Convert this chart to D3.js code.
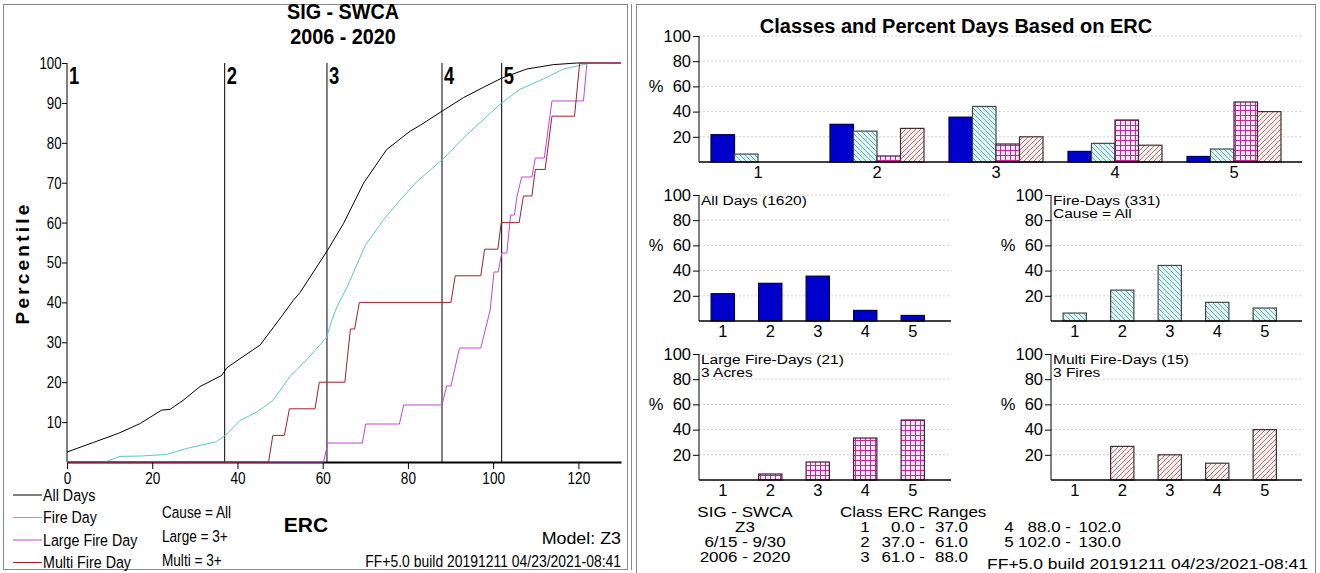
<!DOCTYPE html>
<html>
<head>
<meta charset="utf-8">
<script src="https://cdn.jsdelivr.net/npm/d3@7"></script>
<style>
body { margin: 0; background: #fff; }
svg text { font-family: "Liberation Sans", Arial, sans-serif; fill: #000; }
</style>
</head>
<body>
<div id="chart"></div>
<script>
// ---- data ----
const classNames = ["1", "2", "3", "4", "5"]
const classStarts = [0, 37, 61, 88, 102]
const percentileTicks = [10, 20, 30, 40, 50, 60, 70, 80, 90, 100]
const ercTicks = [0, 20, 40, 60, 80, 100, 120]
const barTicks = [20, 40, 60, 80, 100]

// cumulative percentile curves [ERC, percentile]
const allDaysCurve = [[0, 2.5], [6.2, 4.9], [12.1, 7.2], [17.1, 9.6], [22.2, 13], [24.2, 13.2], [27.3, 15.5],
  [31.2, 18.9], [36.3, 21.7], [37.5, 23.6], [40.6, 25.9], [45.3, 29.3], [48.4, 33.7], [49.6, 35.4],
  [53.1, 40.5], [54.7, 42.5], [61.1, 53], [64.9, 59.8], [69.6, 69.9], [75, 78.3], [80.5, 82.9],
  [82.9, 84.4], [88.1, 88], [93, 91.3], [97.7, 93.9], [102, 96.2], [107.9, 98.5], [114.2, 99.6],
  [119.6, 100], [130, 100]]
const fireDayCurve = [[8.9, 0], [12.4, 1.4], [17.5, 1.5], [23.4, 1.9], [28.1, 3.4], [35.1, 5.1], [37.5, 7],
  [40.6, 10.4], [44.5, 12.5], [48.4, 15.5], [52.3, 21.4], [57, 26.5], [60.9, 31.2], [62.1, 35.4],
  [63.3, 38.8], [65.7, 43.8], [70, 54.3], [74.2, 60.6], [77.8, 65.2], [82.1, 70.3], [88.1, 75.8],
  [93.8, 82], [102, 90], [106.3, 93.4], [112.6, 96.4], [116.5, 98.5], [121.2, 99.6], [122.4, 100], [130, 100]]
const largeFireCurve = [[0, 0], [60.2, 0], [61.2, 4.76], [69.3, 4.76], [70.1, 9.52], [78, 9.52], [79, 14.29],
  [88, 14.29], [89.1, 19.05], [90.1, 19.05], [92.1, 28.57], [97.1, 28.57], [99.3, 38.1], [100.2, 47.62],
  [101.2, 47.62], [102, 52.38], [103.2, 52.38], [104.1, 61.9], [105, 61.9], [105.6, 66.67], [106.7, 71.43],
  [109.1, 71.43], [109.9, 76.19], [112, 76.19], [113.8, 90.48], [121.2, 90.48], [122, 100], [130, 100]]
const multiFireCurve = [[0, 0], [47.3, 0], [48.3, 6.67], [51, 6.67], [52.2, 13.33], [58.2, 13.33], [59.2, 20],
  [65.2, 20], [66.5, 33.33], [67.5, 33.33], [68.6, 40], [90.1, 40], [91.1, 46.67], [97.1, 46.67],
  [98, 53.33], [101.1, 53.33], [101.9, 60], [106.1, 60], [107.1, 66.67], [109.1, 66.67], [109.9, 73.33],
  [112.2, 73.33], [113.8, 86.67], [119.1, 86.67], [120.3, 100], [130, 100]]

// percent of days in each class
const pctAllDays = [21.7, 29.9, 35.6, 8.4, 4.4]
const pctFireDays = [6.3, 24.5, 44.1, 14.8, 10.3]
const pctLargeFire = [0, 4.76, 14.29, 33.33, 47.62]
const pctMultiFire = [0, 26.67, 20, 13.33, 40]

const classRangesLeft = [["1", "0.0", "37.0"], ["2", "37.0", "61.0"], ["3", "61.0", "88.0"]]
const classRangesRight = [["4", "88.0", "102.0"], ["5", "102.0", "130.0"]]
const infoLines = ["SIG - SWCA", "Z3", "6/15 - 9/30", "2006 - 2020"]
const notes = ["Cause = All", "Large = 3+", "Multi = 3+"]

const colors = {
    all: "#000000",
    fire: "#5cc6c6",
    large: "#c048cc",
    multi: "#a0202c",
    blue: "#0000cc"
}

const svg = d3.select("#chart").append("svg")
    .attr("width", 1320)
    .attr("height", 573)

// squeezed text like the original narrow font
const narrowText = (g, px, py, str, size, opts = {}) => g.append("text")
    .attr("transform", `translate(${px}, ${py}) scale(${opts.sx || 0.8}, 1)`)
    .attr("dy", "0.35em")
    .attr("font-size", size)
    .attr("font-weight", opts.bold ? "bold" : null)
    .attr("text-anchor", opts.anchor || "start")
    .text(str)

// ---- patterns ----
const defs = svg.append("defs")
const fireP = defs.append("pattern").attr("id", "fireHatch")
    .attr("patternUnits", "userSpaceOnUse").attr("width", 5).attr("height", 5)
fireP.append("rect").attr("width", 5).attr("height", 5).attr("fill", "#e2f4f4")
fireP.append("path").attr("d", "M-1,-1 L6,6 M-1,4 L1,6 M4,-1 L6,1")
    .attr("stroke", "#55a6aa").attr("stroke-width", 0.9)

const largeP = defs.append("pattern").attr("id", "largeGrid")
    .attr("patternUnits", "userSpaceOnUse").attr("width", 5).attr("height", 5)
largeP.append("rect").attr("width", 5).attr("height", 5).attr("fill", "#fbe6f6")
largeP.append("path").attr("d", "M0,0.5 H5 M0.5,0 V5")
    .attr("stroke", "#c02898").attr("stroke-width", 1)

const multiP = defs.append("pattern").attr("id", "multiHatch")
    .attr("patternUnits", "userSpaceOnUse").attr("width", 5).attr("height", 5)
multiP.append("rect").attr("width", 5).attr("height", 5).attr("fill", "#fbeeee")
multiP.append("path").attr("d", "M-1,6 L6,-1 M-1,1 L1,-1 M4,6 L6,4")
    .attr("stroke", "#a06868").attr("stroke-width", 0.9)

// ---- frames ----
svg.append("rect").attr("x", 3.5).attr("y", 4.5).attr("width", 624).attr("height", 565)
    .attr("fill", "none").attr("stroke", "#888")
svg.append("line").attr("x1", 631.5).attr("x2", 631.5).attr("y1", 4).attr("y2", 570)
    .attr("stroke", "#888")
svg.append("rect").attr("x", 636.5).attr("y", 4.5).attr("width", 679).attr("height", 572)
    .attr("fill", "none").attr("stroke", "#888")

// ================= left: percentile chart =================
const x = d3.scaleLinear().domain([0, 130]).range([67, 621])
const y = d3.scaleLinear().domain([0, 100]).range([462, 63])

const leftG = svg.append("g")

narrowText(leftG, 343, 11, "SIG - SWCA", 22, { bold: true, anchor: "middle", sx: 0.9 })
narrowText(leftG, 343, 36, "2006 - 2020", 22, { bold: true, anchor: "middle", sx: 0.9 })

const yAxisG = leftG.append("g")
    .attr("transform", `translate(${x(0)}, 0)`)
    .call(d3.axisLeft(y).tickValues(percentileTicks).tickSize(5).tickPadding(2))
yAxisG.select(".domain").remove()
yAxisG.selectAll("text").attr("font-size", 17).attr("transform", "scale(0.78, 1)")

const xAxisG = leftG.append("g")
    .attr("transform", `translate(0, ${y(0)})`)
    .call(d3.axisBottom(x).tickValues(ercTicks).tickSize(7).tickSizeOuter(0).tickPadding(3))
xAxisG.select(".domain").attr("stroke-width", 2)
xAxisG.selectAll("text").attr("font-size", 17).attr("transform", "scale(0.8, 1)")

// class boundaries
leftG.selectAll(".classLine")
    .data(classStarts)
    .enter()
    .append("line")
    .attr("x1", d => x(d)).attr("x2", d => x(d))
    .attr("y1", y(100)).attr("y2", y(0))
    .attr("stroke", "#000").attr("stroke-width", 1)

classStarts.forEach((c, i) => {
    narrowText(leftG, x(c) + 2, y(100) + 13, classNames[i], 23, { bold: true, sx: 0.8 })
})

const line = d3.line().x(d => x(d[0])).y(d => y(d[1]))

const curves = [
    { name: "All Days", data: allDaysCurve, color: colors.all },
    { name: "Fire Day", data: fireDayCurve, color: colors.fire },
    { name: "Large Fire Day", data: largeFireCurve, color: colors.large },
    { name: "Multi Fire Day", data: multiFireCurve, color: colors.multi }
]

leftG.selectAll(".curve")
    .data(curves)
    .enter()
    .append("path")
    .attr("d", d => line(d.data))
    .attr("fill", "none")
    .attr("stroke", d => d.color)
    .attr("stroke-width", 1)

// y title
leftG.append("text")
    .attr("transform", "translate(29, 263) rotate(-90)")
    .attr("text-anchor", "middle")
    .attr("font-size", 19).attr("font-weight", "bold")
    .attr("letter-spacing", 3.2)
    .text("Percentile")

leftG.append("text").attr("x", 306).attr("y", 532).attr("text-anchor", "middle")
    .attr("font-size", 21).attr("font-weight", "bold").text("ERC")

// legend
curves.forEach((c, i) => {
    const ly = 495 + i * 22.5
    leftG.append("line").attr("x1", 13).attr("x2", 42).attr("y1", ly).attr("y2", ly)
        .attr("stroke", c.color).attr("stroke-width", 1)
    narrowText(leftG, 43, ly, c.name, 17, { sx: 0.84 })
})

notes.forEach((n, i) => narrowText(leftG, 162, 512 + i * 24, n, 17))

narrowText(leftG, 621, 538, "Model: Z3", 17, { anchor: "end", sx: 1.05 })
narrowText(leftG, 621, 561, "FF+5.0 build 20191211 04/23/2021-08:41", 17, { anchor: "end", sx: 0.82 })

// ================= right: class bar charts =================
const rightG = svg.append("g")

rightG.append("text").attr("x", 956).attr("y", 33).attr("text-anchor", "middle")
    .attr("font-size", 20).attr("font-weight", "bold")
    .text("Classes and Percent Days Based on ERC")

const drawBarChart = (cfg) => {
    const g = rightG.append("g")
    const yS = d3.scaleLinear().domain([0, 100]).range([cfg.bottom, cfg.top])
    const xS = d3.scaleBand().domain(classNames)
        .range(cfg.band).paddingInner(cfg.padIn).paddingOuter(cfg.padOut)

    // dotted grid
    g.selectAll(".grid")
        .data(barTicks)
        .enter()
        .append("line")
        .attr("x1", cfg.left).attr("x2", cfg.right)
        .attr("y1", d => yS(d)).attr("y2", d => yS(d))
        .attr("stroke", "#cfcfcf").attr("stroke-dasharray", "2,2")

    const yAx = g.append("g")
        .attr("transform", `translate(${cfg.left}, 0)`)
        .call(d3.axisLeft(yS).tickValues(barTicks).tickSize(6).tickPadding(2).tickSizeOuter(0))
    yAx.select(".domain").attr("d", `M0,${yS(100)}V${yS(0)}`)
    yAx.selectAll("text").attr("font-size", 16.5)

    g.append("text").attr("x", cfg.left - 43).attr("y", yS(60)).attr("dy", "0.35em")
        .attr("text-anchor", "middle").attr("font-size", 16.5).text("%")

    const inner = d3.scaleBand().domain(d3.range(cfg.series.length)).range([0, xS.bandwidth()])

    cfg.series.forEach((s, si) => {
        g.selectAll(null)
            .data(s.values.map((v, i) => ({ v: v, c: classNames[i] })).filter(d => d.v > 0))
            .enter()
            .append("rect")
            .attr("x", d => xS(d.c) + inner(si))
            .attr("y", d => yS(d.v))
            .attr("width", inner.bandwidth())
            .attr("height", d => yS(0) - yS(d.v))
            .attr("fill", s.fill)
            .attr("stroke", s.stroke)
            .attr("stroke-width", 1.2)
    })

    g.append("line").attr("x1", cfg.left).attr("x2", cfg.right)
        .attr("y1", yS(0)).attr("y2", yS(0))
        .attr("stroke", "#000").attr("stroke-width", 1.3)

    g.selectAll(".xl")
        .data(classNames)
        .enter()
        .append("text")
        .attr("x", d => xS(d) + xS.bandwidth() / 2)
        .attr("y", yS(0) + 16)
        .attr("text-anchor", "middle")
        .attr("font-size", 16.5)
        .text(d => d)

    if (cfg.titles) {
        cfg.titles.forEach((t, i) => {
            g.append("text")
                .attr("transform", `translate(${cfg.left + 2}, ${yS(100) + 10 + i * 13}) scale(1, 0.82)`)
                .attr("font-size", 15.5)
                .text(t)
        })
    }
}

const blueSeries = { values: pctAllDays, fill: colors.blue, stroke: "#000050" }
const fireSeries = { values: pctFireDays, fill: "url(#fireHatch)", stroke: "#404848" }
const largeSeries = { values: pctLargeFire, fill: "url(#largeGrid)", stroke: "#402040" }
const multiSeries = { values: pctMultiFire, fill: "url(#multiHatch)", stroke: "#403030" }

drawBarChart({
    left: 699, right: 1302, top: 36, bottom: 162,
    band: [698.5, 1293.5], padIn: 0.21, padOut: 0.105,
    series: [blueSeries, fireSeries, largeSeries, multiSeries]
})
drawBarChart({
    left: 699, right: 951, top: 195, bottom: 321,
    band: [699, 936.5], padIn: 0.51, padOut: 0.255,
    series: [blueSeries], titles: ["All Days (1620)"]
})
drawBarChart({
    left: 1051, right: 1302, top: 195, bottom: 321,
    band: [1051, 1288.5], padIn: 0.51, padOut: 0.255,
    series: [fireSeries], titles: ["Fire-Days (331)", "Cause = All"]
})
drawBarChart({
    left: 699, right: 951, top: 354, bottom: 480,
    band: [699, 936.5], padIn: 0.51, padOut: 0.255,
    series: [largeSeries], titles: ["Large Fire-Days (21)", "3 Acres"]
})
drawBarChart({
    left: 1051, right: 1302, top: 354, bottom: 480,
    band: [1051, 1288.5], padIn: 0.51, padOut: 0.255,
    series: [multiSeries], titles: ["Multi Fire-Days (15)", "3 Fires"]
})

// footer info
const infoText = (px, py, str, anchor) => rightG.append("text")
    .attr("transform", `translate(${px}, ${py}) scale(1, 0.88)`)
    .attr("dy", "0.35em")
    .attr("text-anchor", anchor)
    .attr("font-size", 17)
    .text(str)

infoLines.forEach((t, i) => infoText(745, 512 + i * 15, t, "middle"))
infoText(840, 512, "Class ERC Ranges", "start")

const rangeRows = (rows, x0, lowEnd, highEnd) => {
    rows.forEach((r, i) => {
        const ry = 527 + i * 15
        infoText(x0, ry, r[0], "middle")
        infoText(lowEnd, ry, r[1] + " -", "end")
        infoText(highEnd, ry, r[2], "end")
    })
}
rangeRows(classRangesLeft, 865, 925, 968)
rangeRows(classRangesRight, 1009, 1071, 1121)

rightG.append("text")
    .attr("transform", "translate(1308, 564) scale(1, 0.88)")
    .attr("dy", "0.35em")
    .attr("text-anchor", "end")
    .attr("font-size", 17.5)
    .text("FF+5.0 build 20191211 04/23/2021-08:41")
</script>
</body>
</html>
